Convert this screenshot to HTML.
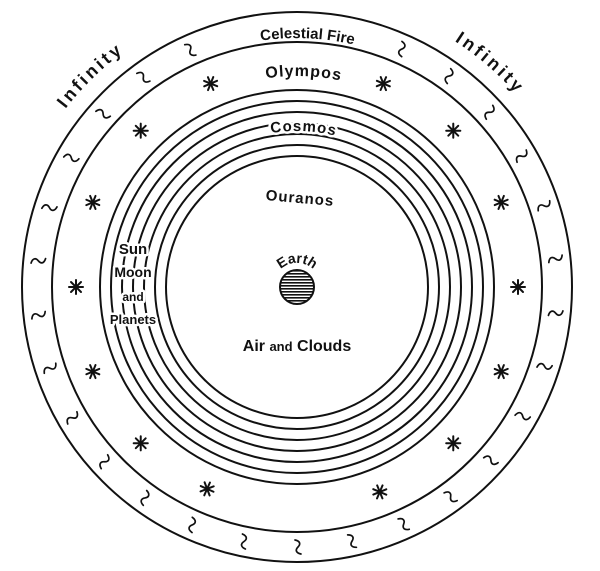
<!DOCTYPE html>
<html><head><meta charset="utf-8"><style>
html,body{margin:0;padding:0;background:#fff}
svg{display:block}
text{font-family:"Liberation Sans","DejaVu Sans",sans-serif;font-weight:bold;fill:#111}
.w{stroke:#fff;stroke-width:5;paint-order:stroke;stroke-linejoin:round}
</style></head><body>
<svg width="600" height="571" viewBox="0 0 600 571" xmlns="http://www.w3.org/2000/svg">
<defs>
<pattern id="h" width="4" height="3" patternUnits="userSpaceOnUse"><rect width="4" height="3" fill="#fff"/><rect width="4" height="1.6" fill="#111"/></pattern>
<path id="pCF" d="M81.4 162.5 A249 249 0 0 1 512.6 162.5"/>
<path id="pOl" d="M114.3 181.5 A211 211 0 0 1 479.7 181.5"/>
<path id="pCo" d="M161.9 209 A156 156 0 0 1 432.1 209"/>
<path id="pEa" d="M274.4 278.8 A24 24 0 0 1 319.6 278.8"/>
<path id="pIL" d="M9.4 236.3 A292 292 0 0 1 246.3 -0.6"/>
<path id="pIR" d="M347.7 -0.6 A292 292 0 0 1 584.6 236.3"/>
<path id="sq" d="M293 20 c5 1 6 4 3 7 c-3 3 -2 6 3 7" fill="none" stroke="#111" stroke-width="1.7" stroke-linecap="round"/>
<g id="st" stroke="#111" stroke-width="2" stroke-linecap="round">
<line x1="297" y1="59" x2="297" y2="73"/><line x1="290" y1="66" x2="304" y2="66"/>
<line x1="292" y1="61" x2="302" y2="71"/><line x1="302" y1="61" x2="292" y2="71"/>
</g>
</defs>
<g fill="none" stroke="#111" stroke-width="2">
<circle cx="297" cy="287" r="275"/>
<circle cx="297" cy="287" r="245"/>
<circle cx="297" cy="287" r="197"/>
<circle cx="297" cy="287" r="186"/>
<circle cx="297" cy="287" r="175"/>
<circle cx="297" cy="287" r="164"/>
<circle cx="297" cy="287" r="153"/>
<circle cx="297" cy="287" r="142"/>
<circle cx="297" cy="287" r="131"/>
</g>
<circle cx="297" cy="287" r="17" fill="url(#h)" stroke="#111" stroke-width="2"/>
<use href="#sq" transform="rotate(24 297 287)"/>
<use href="#sq" transform="rotate(36 297 287)"/>
<use href="#sq" transform="rotate(48 297 287)"/>
<use href="#sq" transform="rotate(60 297 287)"/>
<use href="#sq" transform="rotate(72 297 287)"/>
<use href="#sq" transform="rotate(84 297 287)"/>
<use href="#sq" transform="rotate(96 297 287)"/>
<use href="#sq" transform="rotate(108 297 287)"/>
<use href="#sq" transform="rotate(120 297 287)"/>
<use href="#sq" transform="rotate(132 297 287)"/>
<use href="#sq" transform="rotate(144 297 287)"/>
<use href="#sq" transform="rotate(156 297 287)"/>
<use href="#sq" transform="rotate(168 297 287)"/>
<use href="#sq" transform="rotate(180 297 287)"/>
<use href="#sq" transform="rotate(192 297 287)"/>
<use href="#sq" transform="rotate(204 297 287)"/>
<use href="#sq" transform="rotate(216 297 287)"/>
<use href="#sq" transform="rotate(228 297 287)"/>
<use href="#sq" transform="rotate(240 297 287)"/>
<use href="#sq" transform="rotate(252 297 287)"/>
<use href="#sq" transform="rotate(264 297 287)"/>
<use href="#sq" transform="rotate(276 297 287)"/>
<use href="#sq" transform="rotate(288 297 287)"/>
<use href="#sq" transform="rotate(300 297 287)"/>
<use href="#sq" transform="rotate(312 297 287)"/>
<use href="#sq" transform="rotate(324 297 287)"/>
<use href="#sq" transform="rotate(336 297 287)"/>
<use href="#st" transform="rotate(23 297 287)"/>
<use href="#st" transform="rotate(45 297 287)"/>
<use href="#st" transform="rotate(67.5 297 287)"/>
<use href="#st" transform="rotate(90 297 287)"/>
<use href="#st" transform="rotate(112.5 297 287)"/>
<use href="#st" transform="rotate(135 297 287)"/>
<use href="#st" transform="rotate(158 297 287)"/>
<use href="#st" transform="rotate(-23 297 287)"/>
<use href="#st" transform="rotate(-45 297 287)"/>
<use href="#st" transform="rotate(-67.5 297 287)"/>
<use href="#st" transform="rotate(-90 297 287)"/>
<use href="#st" transform="rotate(-112.5 297 287)"/>
<use href="#st" transform="rotate(-135 297 287)"/>
<use href="#st" transform="rotate(-156 297 287)"/>
<text font-size="15" text-anchor="middle"><textPath href="#pCF" startOffset="52%">Celestial Fire</textPath></text>
<text font-size="16" text-anchor="middle" letter-spacing="1"><textPath href="#pOl" startOffset="51.5%">Olympos</textPath></text>
<text class="w" font-size="15" text-anchor="middle" letter-spacing="1"><textPath href="#pCo" startOffset="52%">Cosmos</textPath></text>
<text font-size="14" text-anchor="middle"><textPath href="#pEa" startOffset="50%">Earth</textPath></text>
<text font-size="18" text-anchor="middle" letter-spacing="3"><textPath href="#pIL" startOffset="51%">Infinity</textPath></text>
<text font-size="18" text-anchor="middle" letter-spacing="3"><textPath href="#pIR" startOffset="44%">Infinity</textPath></text>
<text font-size="15" x="300" y="203" text-anchor="middle" letter-spacing="1" transform="rotate(5 300 198)">Ouranos</text>
<g text-anchor="middle">
<text class="w" font-size="15" x="133" y="254">Sun</text>
<text class="w" font-size="14" x="133" y="277">Moon</text>
<text class="w" font-size="12" x="133" y="301">and</text>
<text class="w" font-size="13" x="133" y="324">Planets</text>
</g>
<text font-size="16" x="297" y="351" text-anchor="middle">Air <tspan font-size="13">and</tspan> Clouds</text>
</svg>
</body></html>
